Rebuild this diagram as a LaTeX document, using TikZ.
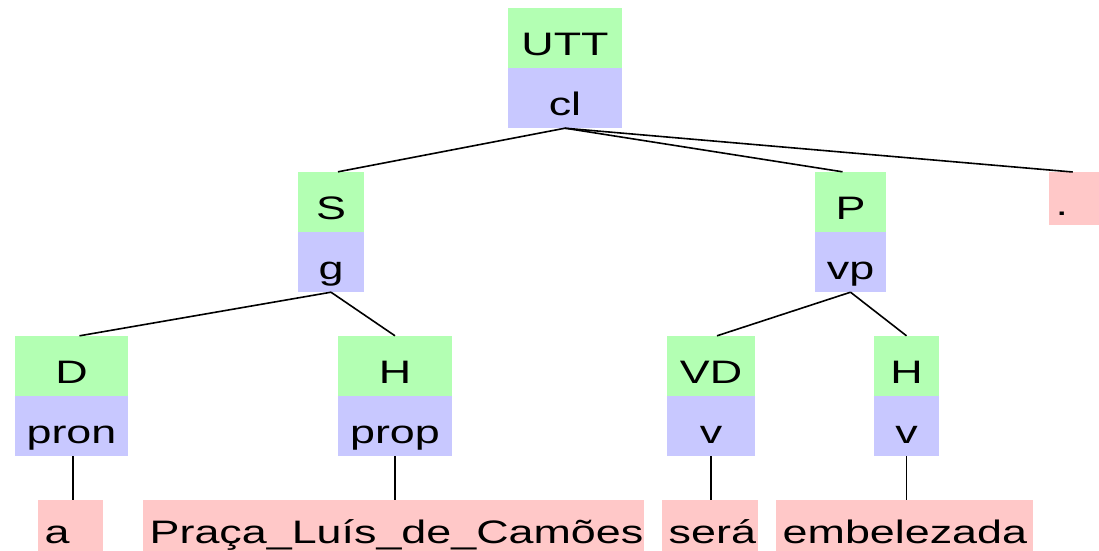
\documentclass[tikz,border=0pt]{standalone}
\usepackage{fontspec}
\setmainfont{Liberation Sans}[FakeStretch=1.38]
\definecolor{fnfill}{RGB}{179,255,179}
\definecolor{catfill}{RGB}{200,200,255}
\definecolor{leaffill}{RGB}{255,200,200}
\begin{document}
\begin{tikzpicture}[x=1pt,y=-1pt,
  every node/.style={font=\fontsize{32.5}{36}\selectfont, inner sep=0pt, text=black},
  fnbox/.style={fill=fnfill, minimum height=60pt, text height=34pt, text depth=0pt},
  catbox/.style={fill=catfill, minimum height=60pt, text height=34pt, text depth=0pt},
  leaf/.style={fill=leaffill, anchor=north west, minimum height=53pt,
    text height=33pt, text depth=0pt, inner xsep=6.5pt, align=left},
  edge/.style={line width=1.6pt, draw=black}]
\clip (0,0) rectangle (1099,550);

% root
\node[fnbox, minimum width=114pt] (utt) at (565,38) {UTT};
\node[catbox, minimum width=114pt] (cl) at (565,98) {cl};

% second level
\node[fnbox, minimum width=66pt] (s) at (331,202) {S};
\node[catbox, minimum width=66pt] (g) at (331,262) {g};
\node[fnbox, minimum width=71pt] (p) at (850.5,202) {P};
\node[catbox, minimum width=71pt] (vp) at (850.5,262) {vp};
\node[leaf, text width=52pt, minimum height=53pt, text height=34pt] (ldot) at (1049,172) {.};

% third level
\node[fnbox, minimum width=113pt] (d) at (71.5,366) {D};
\node[catbox, minimum width=113pt] (pron) at (71.5,426) {pron};
\node[fnbox, minimum width=114pt] (h1) at (395,366) {H};
\node[catbox, minimum width=114pt] (prop) at (395,426) {prop};
\node[fnbox, minimum width=88pt] (vd) at (711,366) {VD};
\node[catbox, minimum width=88pt] (v1) at (711,426) {v};
\node[fnbox, minimum width=65pt] (h2) at (906.5,366) {H};
\node[catbox, minimum width=65pt] (v2) at (906.5,426) {v};

% words
\node[leaf, text width=52pt] (la) at (38,500) {a};
\node[leaf, text width=488pt] (lpraca) at (143,500) {Praça\_Luís\_de\_Camões};
\node[leaf, text width=83pt] (lsera) at (662,500) {será};
\node[leaf, text width=244pt] (lemb) at (776,500) {embelezada};

% branches
\draw[edge] (cl.south) -- ([xshift=7pt]s.north);
\draw[edge] (cl.south) -- ([xshift=-8pt]p.north);
\draw[edge] (cl.south) -- ([xshift=-9pt]ldot.north);
\draw[edge] (g.south) -- ([xshift=8pt]d.north);
\draw[edge] (g.south) -- (h1.north);
\draw[edge] (vp.south) -- ([xshift=6pt]vd.north);
\draw[edge] (vp.south) -- (h2.north);
\draw[edge] ([xshift=1.5pt]pron.south) -- ([xshift=1.5pt]pron.south |- la.north);
\draw[edge] (prop.south) -- (prop.south |- lpraca.north);
\draw[edge] (v1.south) -- (v1.south |- lsera.north);
\draw[edge] (v2.south) -- (v2.south |- lemb.north);
\end{tikzpicture}
\end{document}
